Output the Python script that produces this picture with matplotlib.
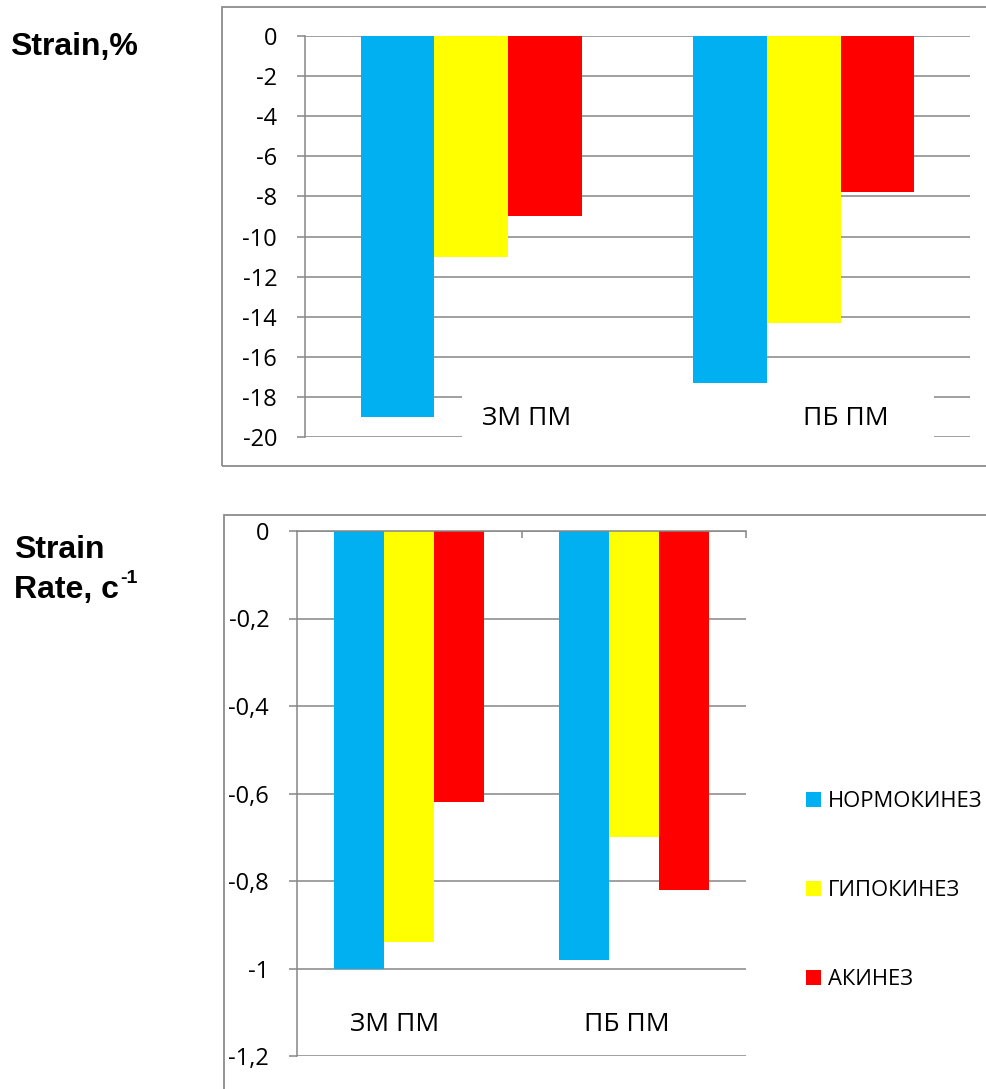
import matplotlib.pyplot as plt
from matplotlib.patches import Rectangle
from matplotlib.ticker import FuncFormatter
from matplotlib.text import Annotation
import numpy as np

categories = ["ЗМ ПМ", "ПБ ПМ"]
series = ["НОРМОКИНЕЗ", "ГИПОКИНЕЗ", "АКИНЕЗ"]
colors = ["#00B0F0", "#FFFF00", "#FF0000"]

strain = [[-19.0, -17.3],     # НОРМОКИНЕЗ
          [-11.0, -14.3],     # ГИПОКИНЕЗ
          [-9.0, -7.8]]       # АКИНЕЗ
strain_rate = [[-1.0, -0.98],
               [-0.94, -0.70],
               [-0.62, -0.82]]

strain_ticks = list(range(0, -21, -2))
rate_ticks = [0, -0.2, -0.4, -0.6, -0.8, -1.0, -1.2]

W, H = 987, 1089
grid_col = "#868686"
font = "Open Sans"
fs = 17

fig = plt.figure(figsize=(W / 100, H / 100), dpi=100)


def fig_box(x0, y0, x1, y1):
    # pixel box (top-left origin) -> figure fraction rect
    return [x0 / W, 1 - y1 / H, (x1 - x0) / W, (y1 - y0) / H]


# outer chart frames
for (x0, y0, x1, y1) in [(222, 7, 1000, 466), (224, 515, 1000, 1100)]:
    l, b, w, h = fig_box(x0, y0, x1, y1)
    fig.add_artist(Rectangle((l, b), w, h, transform=fig.transFigure,
                             fill=False, edgecolor="#8c8c8c", lw=1.3))

bw = 0.222
x = np.arange(len(categories))


def setup(ax, ticks, lim, fmt):
    ax.set_ylim(lim, 0)
    ax.set_xlim(-0.5, 1.5)
    ax.set_yticks(ticks)
    ax.yaxis.set_major_formatter(FuncFormatter(fmt))
    ax.grid(axis="y", color=grid_col, lw=1.1)
    ax.set_axisbelow(True)
    for s in ["right", "bottom", "top"]:
        ax.spines[s].set_visible(False)
    ax.spines["left"].set_color(grid_col)
    ax.spines["left"].set_linewidth(1.1)
    ax.tick_params(axis="y", length=6, width=1.1, color=grid_col, pad=14,
                   labelsize=fs)
    for t in ax.get_yticklabels():
        t.set_fontfamily(font)


# ---- top chart: Strain, %
ax1 = fig.add_axes(fig_box(305, 36, 970, 437))
for i in range(len(series)):
    ax1.bar(x + (i - 1) * bw, strain[i], bw, color=colors[i], zorder=2)
setup(ax1, strain_ticks, -20, lambda v, p: "%d" % v)
ax1.set_xticks([])
# white area behind the category labels (covers gridlines)
ax1.add_patch(Rectangle((-0.5 + (462 - 305) / 332.5, -20.4),
                        (934 - 462) / 332.5, 2.75, facecolor="white",
                        edgecolor="none", zorder=3, clip_on=False))
for cx, lab in zip([0.168, 1.127], categories):
    ax1.text(cx, -19.1, lab, ha="center", va="center", fontsize=19,
             family=font, zorder=4)

# ---- bottom chart: Strain Rate
ax2 = fig.add_axes(fig_box(297, 531, 746, 1056))
handles = []
for i in range(len(series)):
    h = ax2.bar(x + (i - 1) * bw, strain_rate[i], bw, color=colors[i],
                zorder=2, label=series[i])
    handles.append(h)
setup(ax2, rate_ticks, -1.2,
      lambda v, p: ("%g" % round(v, 1)).replace(".", ","))
ax2.spines["top"].set_visible(True)
ax2.spines["top"].set_color(grid_col)
ax2.spines["top"].set_linewidth(1.1)
ax2.xaxis.set_ticks_position("top")
ax2.set_xticks([0.5, 1.5])
ax2.set_xticklabels([])
ax2.tick_params(axis="x", direction="in", length=5, width=1.1, color=grid_col)
for cx, lab in zip([-0.063, 0.97], categories):
    ax2.text(cx, -1.128, lab, ha="center", va="center", fontsize=19,
             family=font)

fig.legend(handles=handles, labels=series, loc="upper left",
           bbox_to_anchor=(806 / W, 1 - 791 / H), frameon=False,
           borderpad=0, borderaxespad=0, handlelength=0.68,
           handleheight=0.68, handletextpad=0.32, labelspacing=3.1,
           prop={"family": font, "size": 15.8})

# left titles
fig.text(10 / W, 1 - 47 / H, "Strain,%", fontsize=23, fontweight="bold",
         family="Liberation Sans", va="center", ha="left")
fig.text(14 / W, 1 - 550 / H, "Strain", fontsize=23, fontweight="bold",
         family="Liberation Sans", va="center", ha="left")
rt = fig.text(14 / W, 1 - 590 / H, "Rate, c", fontsize=23, fontweight="bold",
              family="Liberation Sans", va="center", ha="left")
sup = Annotation("-1", xy=(1.0, 0.88), xycoords=rt, xytext=(1, 0),
                 textcoords="offset points", fontsize=14, fontweight="bold",
                 family="Liberation Sans", va="center", ha="left")
fig.add_artist(sup)

fig.savefig("out.png", dpi=100)
